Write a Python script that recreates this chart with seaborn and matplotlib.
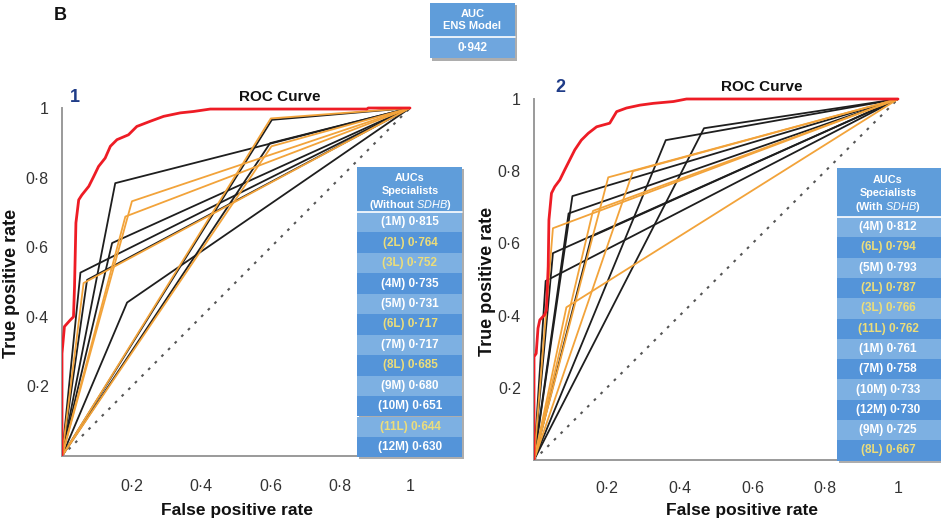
import numpy as np
import pandas as pd
import matplotlib
matplotlib.use("Agg")
import matplotlib.pyplot as plt
from matplotlib.patches import Rectangle
import seaborn as sns

# ---------------- data ----------------
ens_header = ["AUC", "ENS Model"]
ens_auc = 0.942

tick_vals = [0, 0.2, 0.4, 0.6, 0.8, 1.0]
tick_labels = ["", "0·2", "0·4", "0·6", "0·8", "1"]

# panel 1: ensemble ROC curve (red)
roc1_fpr = [0, 0, 0.007, 0.024, 0.033, 0.036, 0.040, 0.048, 0.057, 0.077, 0.091, 0.105,
            0.124, 0.139, 0.158, 0.191, 0.215, 0.254, 0.292, 0.340, 0.378, 0.426, 0.876, 0.880, 1.0]
roc1_tpr = [0, 0.295, 0.372, 0.391, 0.400, 0.487, 0.670, 0.736, 0.750, 0.775, 0.803, 0.832,
            0.856, 0.890, 0.909, 0.923, 0.947, 0.962, 0.976, 0.986, 0.990, 0.997, 0.997, 1.0, 1.0]

# panel 1: specialists without SDHB
spec1_labels = ["1M", "2L", "3L", "4M", "5M", "6L", "7M", "8L", "9M", "10M", "11L", "12M"]
spec1_auc = [0.815, 0.764, 0.752, 0.735, 0.731, 0.717, 0.717, 0.685, 0.680, 0.651, 0.644, 0.630]
spec1_fpr = [0.153, 0.201, 0.182, 0.053, 0.144, 0.062, 0.072, 0.600, 0.603, 0.598, 0.602, 0.187]
spec1_tpr = [0.784, 0.732, 0.688, 0.527, 0.612, 0.497, 0.506, 0.970, 0.966, 0.899, 0.890, 0.441]

# panel 2: ensemble ROC curve (red)
roc2_fpr = [0, 0, 0.006, 0.011, 0.016, 0.029, 0.034, 0.039, 0.041, 0.048, 0.057, 0.071, 0.084,
            0.098, 0.112, 0.130, 0.149, 0.172, 0.208, 0.227, 0.254, 0.291, 0.328, 0.383, 0.419, 1.0]
roc2_tpr = [0, 0.286, 0.295, 0.365, 0.388, 0.402, 0.415, 0.536, 0.665, 0.739, 0.757, 0.776, 0.803,
            0.831, 0.859, 0.886, 0.905, 0.923, 0.933, 0.965, 0.975, 0.983, 0.988, 0.993, 1.0, 1.0]

# panel 2: specialists with SDHB
spec2_labels = ["4M", "6L", "5M", "2L", "3L", "11L", "1M", "7M", "10M", "12M", "9M", "8L"]
spec2_auc = [0.812, 0.794, 0.793, 0.787, 0.766, 0.762, 0.761, 0.758, 0.733, 0.730, 0.725, 0.667]
spec2_fpr = [0.1055, 0.052, 0.095, 0.204, 0.272, 0.162, 0.362, 0.052, 0.032, 0.158, 0.467, 0.089]
spec2_tpr = [0.731, 0.642, 0.683, 0.783, 0.800, 0.690, 0.886, 0.573, 0.496, 0.619, 0.919, 0.423]

box1_header = ["AUCs", "Specialists", r"(Without $\mathit{SDHB}$)"]
box2_header = ["AUCs", "Specialists", r"(With $\mathit{SDHB}$)"]

# ---------------- style ----------------
sns.set_style("white")
plt.rcParams['font.family'] = ['Liberation Sans', 'DejaVu Sans']
plt.rcParams['mathtext.fontset'] = 'custom'
plt.rcParams['mathtext.rm'] = 'Liberation Sans'
plt.rcParams['mathtext.it'] = 'Liberation Sans:italic'
plt.rcParams['mathtext.bf'] = 'Liberation Sans:bold'

W, H = 941, 523
fig = plt.figure(figsize=(W / 100, H / 100), dpi=100)

M_COLOR = '#1e1e1e'
L_COLOR = '#F2A33A'
RED = '#EE1C25'
SPINE = '#9a9a9a'


def fmt(v):
    return f"{v:.3f}".replace(".", "·")


def make_axes(x0, y0, x1px_per_unit, y1px_per_unit):
    pad = 1.012
    w = x1px_per_unit * pad
    h = y1px_per_unit * pad
    return fig.add_axes([x0 / W, 1 - y0 / H, w / W, h / H])


def draw_panel(ax, roc_fpr, roc_tpr, labels, fpr, tpr, xpad, ylab_x, xlab_x, xlab_y):
    rows = []
    for lab, f, t in zip(labels, fpr, tpr):
        grp = 'L' if lab.endswith('L') else 'M'
        for i, (x, y) in enumerate([(0, 0), (f, t), (1, 1)]):
            rows.append(dict(spec=lab, group=grp, order=i, fpr=x, tpr=y))
    df = pd.DataFrame(rows)
    ax.plot([0, 1], [0, 1], ls=(0, (1.3, 3.2)), color='#555555', lw=1.5, zorder=1)
    sns.lineplot(data=df, x='fpr', y='tpr', units='spec', estimator=None, hue='group',
                 palette={'M': M_COLOR, 'L': L_COLOR}, sort=False, legend=False,
                 lw=1.3, ax=ax, zorder=2)
    roc_df = pd.DataFrame({'fpr': roc_fpr, 'tpr': roc_tpr})
    sns.lineplot(data=roc_df, x='fpr', y='tpr', sort=False, estimator=None,
                 color=RED, lw=2.0, ax=ax, zorder=3)
    ax.set_xlim(0, 1.012)
    ax.set_ylim(0, 1.012)
    for s in ['top', 'right']:
        ax.spines[s].set_visible(False)
    for s in ['left', 'bottom']:
        ax.spines[s].set_color(SPINE)
        ax.spines[s].set_linewidth(1.4)
        ax.spines[s].set_bounds(0, 1)
    ax.set_xticks(tick_vals)
    ax.set_xticklabels(tick_labels)
    ax.set_yticks(tick_vals)
    ax.set_yticklabels(tick_labels)
    ax.tick_params(axis='both', direction='out', length=7, width=1.3, color='#555555',
                   labelcolor='#333333', labelsize=11.5)
    ax.tick_params(axis='x', pad=xpad)
    ax.tick_params(axis='y', pad=2.5)
    ax.set_xlabel("False positive rate", fontsize=12.5, fontweight='bold', color='#111111')
    ax.set_ylabel("True positive rate", fontsize=13, fontweight='bold', color='#111111')
    ax.xaxis.label.set_va('center')
    ax.yaxis.label.set_va('center')
    ax.xaxis.set_label_coords(xlab_x, xlab_y)
    ax.yaxis.set_label_coords(ylab_x, 0.49)
    ax.grid(False)


ax1 = make_axes(62, 456, 348, 348)
draw_panel(ax1, roc1_fpr, roc1_tpr, spec1_labels, spec1_fpr, spec1_tpr,
           xpad=9.5, ylab_x=(12 - 62) / (348 * 1.012), xlab_x=0.497, xlab_y=(456 - 510) / (348 * 1.012))
ax2 = make_axes(534, 460, 364, 361)
draw_panel(ax2, roc2_fpr, roc2_tpr, spec2_labels, spec2_fpr, spec2_tpr,
           xpad=8, ylab_x=(487 - 534) / (364 * 1.012), xlab_x=0.565, xlab_y=(460 - 510) / (361 * 1.012))

# ---------------- overlay (annotations, boxes) ----------------
ov = fig.add_axes([0, 0, 1, 1])
ov.set_xlim(0, W)
ov.set_ylim(H, 0)
ov.axis('off')
ov.set_zorder(10)

HEAD = '#5F9DDA'
LIGHT = '#7DB0E2'
DARK = '#5494D9'
TXT_M = '#FFFFFF'
TXT_L = '#ECDD7A'

ov.text(60, 16, "B", fontsize=13, fontweight='bold', ha='center', va='center', color='#111111')
ov.text(75, 97, "1", fontsize=13, fontweight='bold', ha='center', va='center', color='#1F3C88')
ov.text(560, 88, "2", fontsize=13, fontweight='bold', ha='center', va='center', color='#1F3C88')
ov.text(280, 97, "ROC Curve", fontsize=11, fontweight='bold', ha='center', va='center', color='#111111')
ov.text(762, 87, "ROC Curve", fontsize=11, fontweight='bold', ha='center', va='center', color='#111111')


def draw_box(x0, y0, w, head_h, row_h, head_lines, head_ys, labels, aucs, tx):
    total = head_h + row_h * len(labels)
    ov.add_patch(Rectangle((x0 + 2, y0 + 2), w, total, color='#8a8a8a', alpha=0.7, lw=0))
    ov.add_patch(Rectangle((x0, y0), w, head_h, color=HEAD, lw=0))
    for line, yy in zip(head_lines, head_ys):
        ov.text(tx, yy, line, fontsize=7.8, fontweight='bold', color='white', ha='center',
                va='center_baseline')
    for i, (lab, a) in enumerate(zip(labels, aucs)):
        top = y0 + head_h + i * row_h
        ov.add_patch(Rectangle((x0, top), w, row_h, color=LIGHT if i % 2 == 0 else DARK, lw=0))
        col = TXT_L if lab.endswith('L') else TXT_M
        ov.text(tx, top + row_h / 2, f"({lab}) {fmt(a)}", fontsize=8.5, fontweight='bold',
                color=col, ha='center', va='center')
    ov.plot([x0, x0 + w], [y0 + head_h, y0 + head_h], color='white', lw=1.2)


draw_box(357, 167, 105, 45, 20.45, box1_header, [177, 190, 203], spec1_labels, spec1_auc, 410)
draw_box(837, 168, 105, 49, 20.3, box2_header, [179, 192, 205], spec2_labels, spec2_auc, 888)

# ENS model box
ov.add_patch(Rectangle((432, 5), 85, 56, color='#8a8a8a', alpha=0.7, lw=0))
ov.add_patch(Rectangle((430, 3), 85, 34, color=HEAD, lw=0))
ov.add_patch(Rectangle((430, 37), 85, 21, color='#6FA6DE', lw=0))
ov.plot([430, 515], [37, 37], color='white', lw=1.2)
ov.text(472.5, 14, ens_header[0], fontsize=8, fontweight='bold', color='white', ha='center', va='center')
ov.text(472.5, 26, ens_header[1], fontsize=8, fontweight='bold', color='white', ha='center', va='center')
ov.text(472.5, 48, fmt(ens_auc), fontsize=8.5, fontweight='bold', color='white', ha='center', va='center')

fig.savefig("out.png", dpi=100)
